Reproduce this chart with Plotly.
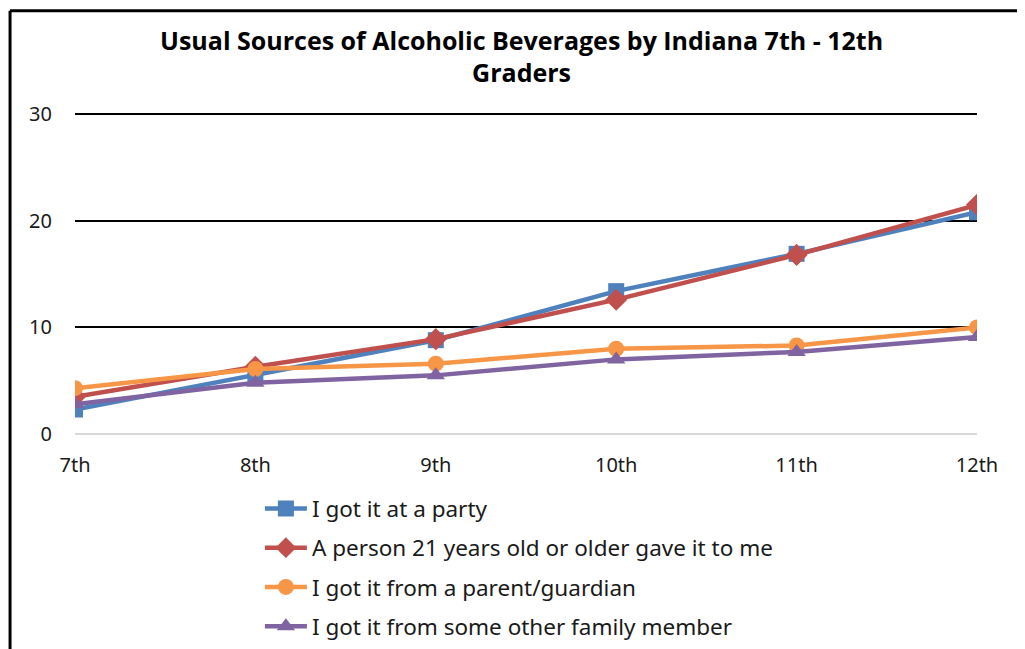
import plotly.graph_objects as go

grades = ['7th', '8th', '9th', '10th', '11th', '12th']

party = [2.3, 5.5, 8.8, 13.4, 16.9, 20.8]
adult_21 = [3.5, 6.3, 8.9, 12.6, 16.8, 21.5]
parent = [4.3, 6.1, 6.6, 8.0, 8.3, 10.0]
other_family = [2.8, 4.8, 5.5, 7.0, 7.7, 9.1]

series = [
    ('I got it at a party', party, '#4F81BD', 'square'),
    ('A person 21 years old or older gave it to me', adult_21, '#C0504D', 'diamond'),
    ('I got it from a parent/guardian', parent, '#F79646', 'circle'),
    ('I got it from some other family member', other_family, '#8064A2', 'triangle-up'),
]

fig = go.Figure()
for i, (name, vals, color, sym) in enumerate(series):
    fig.add_trace(go.Scatter(
        x=grades, y=vals, name=name, mode='lines+markers',
        legendgroup=str(i),
        line=dict(color=color, width=4.5),
        marker=dict(symbol=sym, size=16 if sym != 'diamond' else 17, color=color),
    ))

# chart frame (Excel-style border)
fig.add_shape(type='line', xref='paper', yref='paper', x0=-0.072, x1=-0.072, y0=1.31, y1=-0.8,
              line=dict(color='black', width=3))
fig.add_shape(type='line', xref='paper', yref='paper', x0=-0.072, x1=1.06, y0=1.31, y1=1.31,
              line=dict(color='black', width=3))
fig.add_shape(type='line', xref='paper', yref='paper', x0=1.051, x1=1.051, y0=1.31, y1=-0.8,
              line=dict(color='#D0D0D0', width=1.5))

fig.update_layout(
    width=1017, height=641,
    margin=dict(l=67, r=48, t=103, b=215, autoexpand=False),
    paper_bgcolor='white', plot_bgcolor='white',
    font=dict(family='Noto Sans', size=20, color='#1a1a1a'),
    title=dict(
        text='<b>Usual Sources of Alcoholic Beverages by Indiana 7th - 12th<br>Graders</b>',
        x=0.505, xanchor='center', y=0.935, yanchor='top',
        font=dict(family='Open Sans', size=25, color='black'),
    ),
    showlegend=True,
    legend=dict(
        x=0.205, xanchor='left', y=-0.165, yanchor='top',
        font=dict(family='Noto Sans', size=22.5, color='#1a1a1a'),
        tracegroupgap=7, itemwidth=42, bgcolor='rgba(0,0,0,0)',
    ),
    xaxis=dict(
        range=[0, 5], showgrid=False, zeroline=False, showline=False,
        ticks='', ticklabelstandoff=17, tickfont=dict(size=20),
    ),
    yaxis=dict(
        range=[0, 30.3], tickvals=[0, 10, 20, 30],
        showgrid=True, gridcolor='black', gridwidth=1.5,
        zeroline=True, zerolinecolor='#D9D9D9', zerolinewidth=2,
        ticks='', ticklabelstandoff=22, tickfont=dict(size=20),
    ),
)

fig.write_html('out.html')
